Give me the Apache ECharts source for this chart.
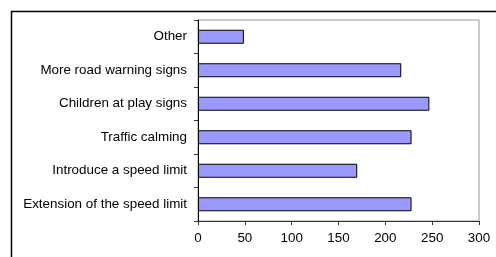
<!DOCTYPE html>
<html>
<head>
<meta charset="utf-8">
<script src="https://cdn.jsdelivr.net/npm/echarts@6/dist/echarts.min.js"></script>
<style>
  html, body { margin: 0; padding: 0; background: #fff; }
  #main { width: 496px; height: 257px; }
</style>
</head>
<body>
<div id="main"></div>
<script>
    // categories top to bottom
    var categories = ['Other', 'More road warning signs', 'Children at play signs',
        'Traffic calming', 'Introduce a speed limit', 'Extension of the speed limit'];
    var values = [49, 217, 247, 228, 170, 228];
    var xTicks = [0, 300, 50]; // min, max, interval

    var myChart = echarts.init(document.getElementById('main'));
    var option = {
        animation: false,
        backgroundColor: '#fff',
        textStyle: { fontFamily: '"Liberation Sans", Arial, sans-serif' },
        graphic: [{
            type: 'rect',
            shape: { x: 11.5, y: 11.5, width: 520, height: 300 },
            style: { fill: 'none', stroke: '#000', lineWidth: 1.5 },
            silent: true
        }],
        grid: {
            left: 198, right: 17, top: 20, bottom: 36,
            show: true,
            borderColor: '#999',
            borderWidth: 1,
            backgroundColor: '#fff'
        },
        xAxis: {
            type: 'value',
            min: xTicks[0],
            max: xTicks[1],
            interval: xTicks[2],
            splitLine: { show: false },
            axisLine: { show: true, lineStyle: { color: '#333', width: 1 } },
            axisTick: { show: true, length: 4, lineStyle: { color: '#333' } },
            axisLabel: { color: '#000', fontSize: 13.4, margin: 11 }
        },
        yAxis: {
            type: 'category',
            inverse: true,
            data: categories,
            axisLine: { show: true, lineStyle: { color: '#000', width: 1 } },
            axisTick: { show: true, length: 4, lineStyle: { color: '#333' } },
            axisLabel: { color: '#000', fontSize: 13.4, margin: 11 }
        },
        series: [{
            type: 'bar',
            data: values,
            barWidth: 14,
            itemStyle: {
                color: '#9999FF',
                borderColor: '#000',
                borderWidth: 1
            }
        }]
    };
    myChart.setOption(option);
</script>
</body>
</html>
